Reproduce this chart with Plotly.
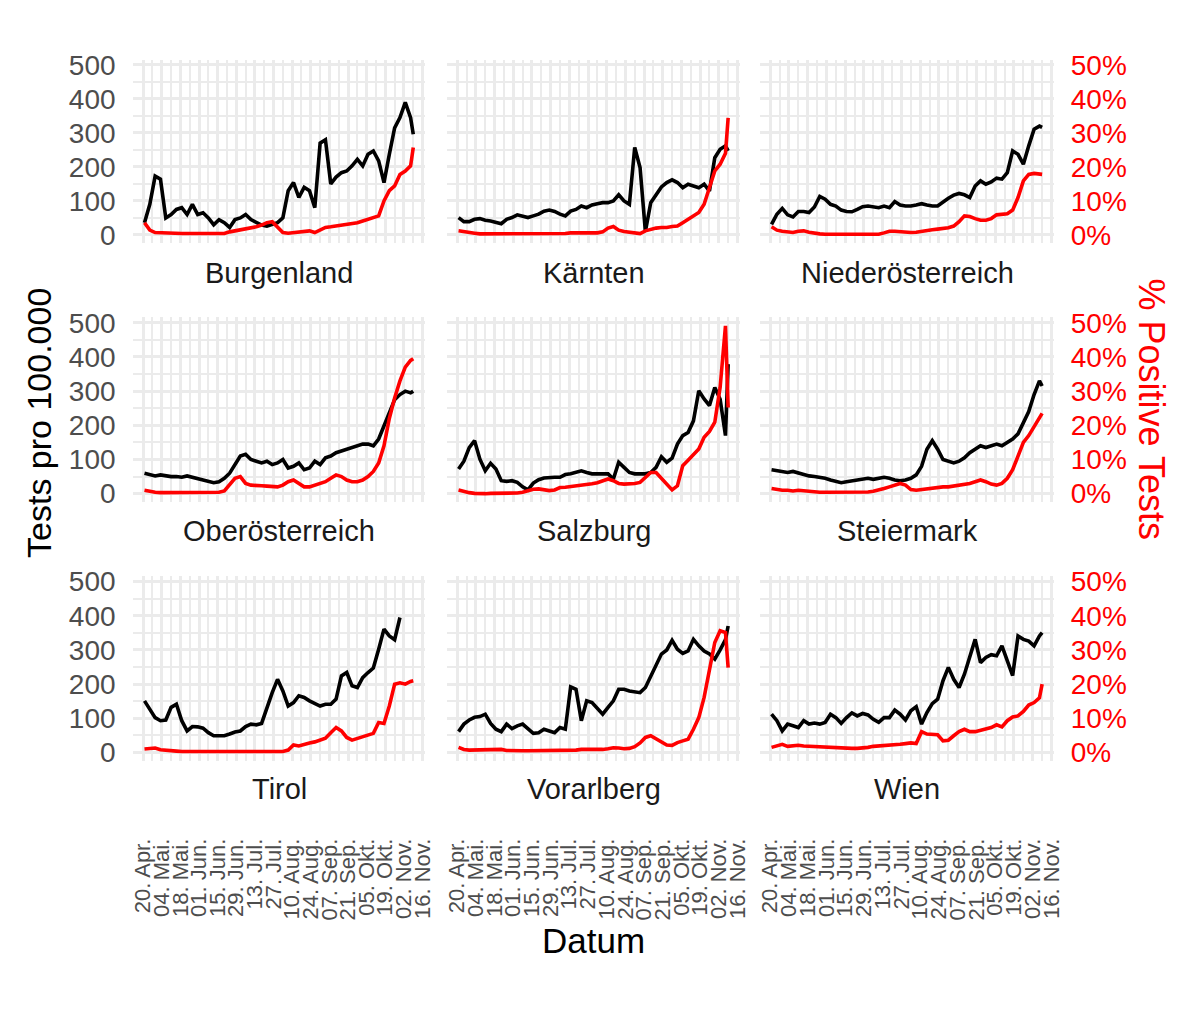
import pandas as pd
import plotly.graph_objects as go

# ---------------- data ----------------
regions = ["Burgenland", "Kärnten", "Niederösterreich",
           "Oberösterreich", "Salzburg", "Steiermark",
           "Tirol", "Vorarlberg", "Wien"]

dates = list(pd.date_range("2020-04-21", periods=51, freq="4D")) + [pd.Timestamp("2020-11-09")]

tick_dates = ["2020-04-20", "2020-05-04", "2020-05-18", "2020-06-01", "2020-06-15",
              "2020-06-29", "2020-07-13", "2020-07-27", "2020-08-10", "2020-08-24",
              "2020-09-07", "2020-09-21", "2020-10-05", "2020-10-19", "2020-11-02",
              "2020-11-16"]
tick_labels = ["20. Apr.", "04. Mai.", "18. Mai.", "01. Jun.", "15. Jun.", "29. Jun.",
               "13. Jul.", "27. Jul.", "10. Aug.", "24. Aug.", "07. Sep.", "21. Sep.",
               "05. Okt.", "19. Okt.", "02. Nov.", "16. Nov."]

tests_ticks = [0, 100, 200, 300, 400, 500]
pos_ticks = [0, 10, 20, 30, 40, 50]
pos_tick_labels = ["0%", "10%", "20%", "30%", "40%", "50%"]

# Tests pro 100.000
tests_burgenland = [36, 90, 173, 164, 50, 60, 75, 80, 60, 90,
                    60, 65, 50, 30, 45, 36, 22, 45, 50, 60,
                    45, 36, 29, 26, 31, 36, 50, 130, 154, 110,
                    140, 130, 80, 270, 280, 150, 170, 183, 188, 203,
                    222, 203, 237, 247, 218, 154, 237, 315, 345, 390,
                    345, 296]
tests_kaernten = [51, 39, 39, 46, 48, 43, 41, 36, 33, 46,
                  51, 59, 56, 51, 56, 61, 70, 73, 69, 61,
                  56, 70, 75, 85, 80, 88, 92, 95, 95, 100,
                  118, 100, 90, 257, 198, 10, 95, 120, 141, 154,
                  162, 154, 139, 149, 144, 139, 149, 129, 227, 252,
                  262, 247]
tests_noe = [31, 61, 78, 59, 53, 69, 69, 66, 82, 113,
             105, 90, 85, 73, 69, 68, 75, 83, 85, 82,
             80, 85, 80, 98, 88, 85, 85, 88, 92, 88,
             85, 85, 98, 108, 117, 122, 118, 110, 144, 159,
             149, 156, 167, 164, 183, 247, 237, 208, 262, 311,
             320, 316]
tests_ooe = [60, 55, 52, 55, 52, 50, 50, 48, 52, 48,
             45, 40, 35, 32, 35, 45, 60, 85, 110, 115,
             100, 95, 90, 95, 85, 90, 100, 75, 80, 90,
             70, 75, 95, 85, 105, 110, 120, 125, 130, 135,
             140, 145, 145, 140, 160, 200, 240, 275, 290, 300,
             295, 300]
tests_salzburg = [72, 95, 135, 155, 101, 67, 89, 72, 38, 36,
                  38, 33, 20, 11, 31, 41, 46, 48, 48, 48,
                  56, 58, 62, 67, 62, 58, 58, 58, 58, 43,
                  92, 77, 62, 58, 58, 58, 62, 77, 108, 92,
                  104, 145, 170, 179, 213, 301, 277, 258, 311, 276,
                  170, 379]
tests_steiermark = [70, 68, 65, 62, 65, 60, 55, 52, 50, 48,
                    45, 40, 35, 32, 35, 38, 40, 42, 45, 42,
                    45, 48, 45, 40, 38, 40, 45, 55, 80, 130,
                    155, 130, 100, 95, 90, 95, 105, 120, 130, 140,
                    135, 140, 145, 140, 150, 160, 175, 205, 240, 290,
                    330, 315]
tests_tirol = [151, 124, 102, 93, 95, 132, 141, 93, 63, 76,
               75, 71, 58, 49, 49, 49, 54, 60, 63, 76,
               83, 81, 85, 132, 175, 214, 180, 136, 146, 166,
               161, 151, 143, 136, 141, 141, 156, 224, 234, 195,
               190, 219, 234, 247, 302, 361, 341, 330, 395, None,
               None, None]
tests_vorarlberg = [61, 83, 95, 103, 105, 112, 85, 68, 61, 83,
                    70, 78, 83, 71, 56, 58, 68, 63, 58, 73,
                    68, 192, 185, 93, 151, 146, 127, 112, 132, 151,
                    185, 185, 180, 178, 175, 190, 224, 258, 288, 300,
                    328, 302, 290, 297, 331, 312, 297, 288, 273, 300,
                    330, 370]
tests_wien = [112, 93, 63, 83, 78, 73, 93, 83, 86, 83,
              88, 112, 102, 85, 102, 116, 107, 114, 110, 97,
              88, 102, 102, 124, 112, 95, 122, 134, 83, 117,
              143, 156, 210, 249, 214, 190, 229, 278, 331, 263,
              278, 286, 283, 312, 268, 225, 341, 331, 326, 312,
              341, 351]

# % Positive Tests
pos_burgenland = [3.6, 1.4, 0.7, 0.6, 0.5, 0.4, 0.4, 0.4, 0.4, 0.4,
                  0.4, 0.4, 0.4, 0.4, 0.4, 0.4, 0.9, 1.2, 1.4, 1.7,
                  2.2, 2.4, 2.9, 3.6, 3.9, 2.2, 0.7, 0.5, 0.7, 0.9,
                  1.2, 1.2, 0.7, 1.4, 2.2, 2.4, 2.6, 2.8, 3.1, 3.3,
                  3.6, 4.1, 4.6, 5.1, 5.6, 10.0, 13.0, 14.4, 17.8, 18.8,
                  20.3, 25.7]
pos_kaernten = [1.2, 0.9, 0.7, 0.5, 0.3, 0.3, 0.3, 0.3, 0.3, 0.3,
                0.3, 0.3, 0.4, 0.4, 0.4, 0.4, 0.4, 0.4, 0.4, 0.4,
                0.4, 0.6, 0.6, 0.6, 0.6, 0.6, 0.6, 0.9, 2.0, 2.5,
                1.4, 1.0, 0.8, 0.6, 0.4, 1.2, 1.7, 2.0, 2.2, 2.2,
                2.5, 2.6, 3.6, 4.6, 5.4, 6.6, 9.0, 13.9, 18.8, 20.8,
                24.0, 34.4]
pos_noe = [2.4, 1.4, 1.1, 0.9, 0.7, 1.1, 1.2, 0.8, 0.5, 0.3,
           0.2, 0.2, 0.2, 0.2, 0.2, 0.2, 0.2, 0.2, 0.2, 0.2,
           0.2, 0.6, 1.1, 1.1, 0.9, 0.8, 0.7, 0.8, 1.1, 1.3,
           1.5, 1.7, 1.9, 2.1, 2.6, 3.9, 5.6, 5.4, 4.8, 4.3,
           4.3, 4.8, 5.9, 6.1, 6.2, 7.3, 11.0, 15.9, 17.8, 18.1,
           18.0, 17.8]
pos_ooe = [1.0, 0.6, 0.4, 0.3, 0.3, 0.3, 0.3, 0.3, 0.3, 0.3,
           0.3, 0.3, 0.3, 0.3, 0.4, 0.8, 2.5, 4.5, 5.0, 3.0,
           2.5, 2.5, 2.3, 2.2, 2.0, 2.0, 2.5, 3.5, 4.0, 3.0,
           2.0, 2.0, 2.5, 3.0, 3.5, 4.5, 5.5, 5.0, 4.0, 3.5,
           3.5, 4.0, 5.0, 6.5, 9.0, 14.0, 22.0, 28.0, 33.0, 37.0,
           39.0, 39.5]
pos_salzburg = [1.1, 0.6, 0.3, 0.1, 0.0, 0.0, 0.1, 0.1, 0.1, 0.1,
                0.1, 0.2, 0.4, 0.9, 1.3, 1.4, 1.1, 0.9, 1.1, 1.8,
                1.9, 2.1, 2.3, 2.3, 2.7, 2.9, 3.2, 3.8, 4.3, 3.8,
                3.0, 2.8, 2.8, 3.0, 3.3, 4.8, 6.2, 6.2, 4.6, 3.0,
                1.1, 2.3, 8.2, 9.8, 11.6, 13.1, 16.5, 18.2, 20.9, 31.1,
                49.1, 25.2]
pos_steiermark = [1.5, 1.2, 1.0, 1.0, 0.8, 1.0, 0.8, 0.6, 0.5, 0.4,
                  0.4, 0.4, 0.4, 0.4, 0.4, 0.4, 0.4, 0.4, 0.5, 0.7,
                  1.0, 1.5, 2.0, 2.5, 3.0, 2.5, 1.2, 1.0, 1.2, 1.5,
                  1.5, 1.8, 2.0, 2.0, 2.2, 2.5, 2.8, 3.0, 3.5, 4.0,
                  3.5, 2.8, 2.5, 3.0, 4.5, 7.0, 11.0, 15.0, 17.0, 19.5,
                  22.0, 23.5]
pos_tirol = [1.0, 1.2, 1.3, 0.8, 0.6, 0.5, 0.4, 0.3, 0.3, 0.3,
             0.3, 0.3, 0.3, 0.3, 0.3, 0.4, 0.4, 0.4, 0.4, 0.5,
             0.5, 0.4, 0.3, 0.4, 0.4, 0.4, 0.3, 0.7, 2.2, 1.9,
             2.4, 2.8, 3.1, 3.6, 4.2, 5.8, 7.3, 6.3, 4.4, 3.6,
             4.1, 4.6, 4.9, 5.6, 8.8, 8.5, 13.6, 20.0, 20.4, 20.0,
             20.8, 21.0]
pos_vorarlberg = [1.5, 0.9, 0.7, 0.7, 0.7, 0.7, 0.7, 0.9, 0.9, 0.6,
                  0.5, 0.5, 0.5, 0.5, 0.5, 0.5, 0.5, 0.5, 0.5, 0.5,
                  0.5, 0.5, 0.7, 0.9, 0.9, 0.7, 0.8, 0.9, 1.1, 1.4,
                  1.3, 1.1, 1.2, 1.7, 2.8, 4.4, 4.9, 3.9, 2.9, 2.2,
                  2.1, 2.9, 3.4, 3.9, 6.8, 10.2, 16.1, 23.9, 32.2, 35.6,
                  35.1, 24.8]
pos_wien = [1.5, 1.9, 2.4, 1.8, 1.9, 2.1, 1.9, 1.8, 1.7, 1.6,
            1.5, 1.5, 1.4, 1.3, 1.2, 1.2, 1.2, 1.3, 1.5, 1.8,
            1.9, 1.9, 2.1, 2.2, 2.4, 2.6, 2.8, 2.6, 6.1, 5.4,
            5.4, 5.2, 3.4, 3.6, 4.9, 6.1, 6.8, 6.1, 6.1, 6.5,
            6.8, 7.3, 8.1, 7.5, 9.3, 10.4, 10.7, 12.0, 13.9, 14.6,
            16.0, 20.0]

tests_series = [tests_burgenland, tests_kaernten, tests_noe, tests_ooe, tests_salzburg,
                tests_steiermark, tests_tirol, tests_vorarlberg, tests_wien]
pos_series = [pos_burgenland, pos_kaernten, pos_noe, pos_ooe, pos_salzburg,
              pos_steiermark, pos_tirol, pos_vorarlberg, pos_wien]

# ---------------- layout ----------------
W, H = 1200, 1019
FONT = "Liberation Sans, Arial, Helvetica, sans-serif"
GRID = "#EBEBEB"
col_px = [(131.5, 426.5), (448.7, 744.6), (764.8, 1061.8)]
row_px = [(50.5, 237.2), (312.7, 500.4), (575.9, 763.6)]
strip_y = [267.3, 529.5, 792.7]
x_range = ["2020-04-12 12:00", "2020-11-18 00:00"]
y_range = [-24.5, 515.5]
p_range = [-2.45, 51.55]

fig = go.Figure()
layout = dict(width=W, height=H, margin=dict(l=0, r=0, t=0, b=0),
              paper_bgcolor="white", plot_bgcolor="white", showlegend=False,
              font=dict(family=FONT))
annotations = []

for k in range(9):
    r, c = divmod(k, 3)
    n = k + 1
    xs = "" if n == 1 else str(n)
    ys = "" if n == 1 else str(n)
    y2n = 9 + n
    (x0, x1), (y0, y1) = col_px[c], row_px[r]

    xa = dict(domain=[x0 / W, x1 / W], anchor="y" + ys, range=x_range, type="date",
              tickmode="array", tickvals=tick_dates, ticktext=tick_labels,
              showgrid=True, gridcolor=GRID, gridwidth=2.6, zeroline=False,
              showline=False,
              minor=dict(tickmode="linear", tick0="2020-04-13", dtick=7 * 86400000,
                         showgrid=True, gridcolor=GRID, gridwidth=1.7))
    if r == 2:
        xa.update(showticklabels=True, tickangle=-90,
                  tickfont=dict(size=22, color="#4D4D4D", family=FONT),
                  ticks="outside", ticklen=68, tickcolor="rgba(0,0,0,0)")
    else:
        xa.update(showticklabels=False, ticks="")
    layout["xaxis" + xs] = xa

    ya = dict(domain=[1 - y1 / H, 1 - y0 / H], anchor="x" + xs, range=y_range,
              tickmode="array", tickvals=tests_ticks,
              showgrid=True, gridcolor=GRID, gridwidth=2.6, zeroline=False, showline=False,
              minor=dict(tickmode="linear", tick0=50, dtick=100,
                         showgrid=True, gridcolor=GRID, gridwidth=1.7))
    if c == 0:
        ya.update(showticklabels=True, tickfont=dict(size=28, color="#4D4D4D", family=FONT),
                  ticks="outside", ticklen=11, tickcolor="rgba(0,0,0,0)")
    else:
        ya.update(showticklabels=False, ticks="")
    layout["yaxis" + ys] = ya

    yb = dict(overlaying="y" + ys, anchor="x" + xs, side="right", range=p_range,
              showgrid=False, zeroline=False, showline=False)
    if c == 2:
        yb.update(visible=True, tickmode="array", tickvals=pos_ticks, ticktext=pos_tick_labels,
                  tickfont=dict(size=28, color="red", family=FONT),
                  ticks="outside", ticklen=10, tickcolor="rgba(0,0,0,0)")
    else:
        yb.update(visible=False)
    layout["yaxis" + str(y2n)] = yb

    fig.add_trace(go.Scatter(x=dates, y=tests_series[k], mode="lines",
                             line=dict(color="black", width=3.6),
                             xaxis="x" + xs, yaxis="y" + ys, name="Tests",
                             connectgaps=False))
    fig.add_trace(go.Scatter(x=dates, y=pos_series[k], mode="lines",
                             line=dict(color="red", width=3.6),
                             xaxis="x" + xs, yaxis="y" + str(y2n), name="% Positive"))

    annotations.append(dict(text=regions[k], x=(x0 + x1) / 2 / W, y=1 - strip_y[r] / H,
                            xref="paper", yref="paper", showarrow=False,
                            xanchor="center", yanchor="middle",
                            font=dict(size=29, color="#1A1A1A", family=FONT)))

annotations += [
    dict(text="Tests pro 100.000", x=35.6 / W, y=1 - 419.7 / H, xref="paper", yref="paper",
         showarrow=False, textangle=-90, xanchor="center", yanchor="middle",
         font=dict(size=34, color="black", family=FONT)),
    dict(text="% Positive Tests", x=1159.8 / W, y=1 - 405.5 / H, xref="paper", yref="paper",
         showarrow=False, textangle=90, xanchor="center", yanchor="middle",
         font=dict(size=36, color="red", family=FONT)),
    dict(text="Datum", x=596.2 / W, y=1 - 946.1 / H, xref="paper", yref="paper",
         showarrow=False, xanchor="center", yanchor="middle",
         font=dict(size=35, color="black", family=FONT)),
]
layout["annotations"] = annotations
fig.update_layout(**layout)
fig.write_html("out.html", config={"displayModeBar": False},
               post_script="document.body.style.margin='0px';document.body.style.padding='0px';")
